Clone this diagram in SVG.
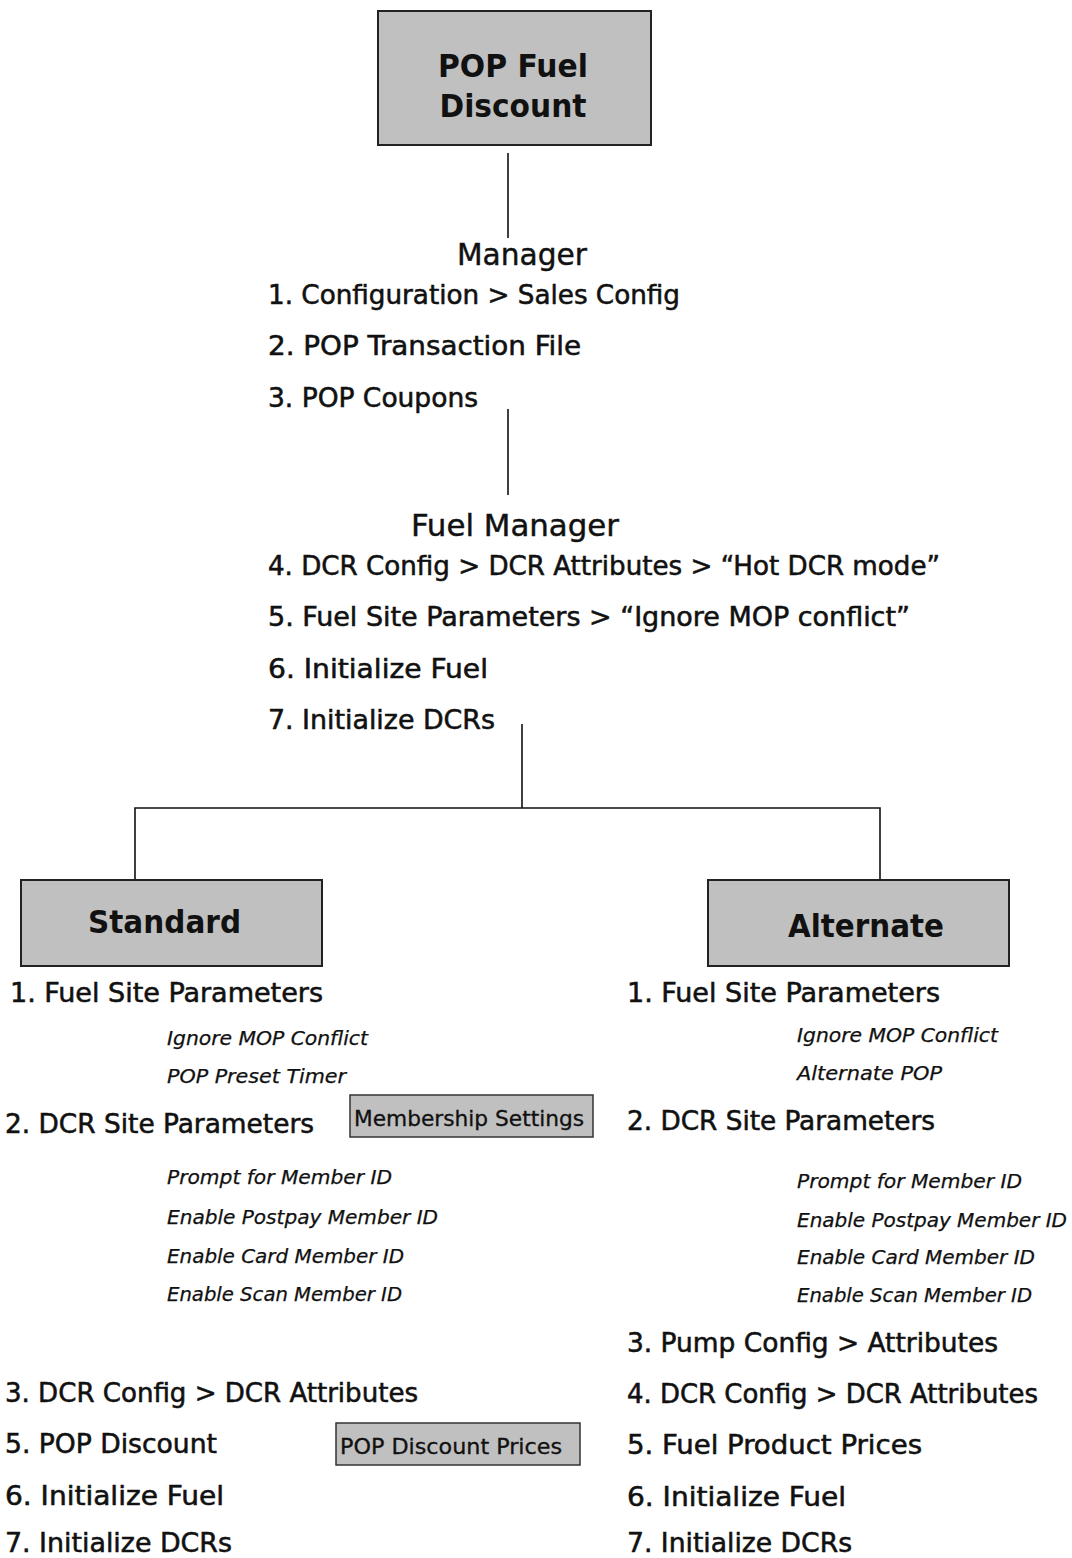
<svg xmlns="http://www.w3.org/2000/svg" width="1072" height="1558" viewBox="0 0 1072 1558">
<style>
.bg{fill:#fff}
.box{fill:#c0c0c0;stroke:#222;stroke-width:2}
.sbox{fill:#c0c0c0;stroke:#333;stroke-width:1.5}
.conn{stroke:#111;stroke-width:1.6;fill:none}
text{font-family:"DejaVu Sans Condensed","DejaVu Sans",sans-serif;fill:#111}
.title{font-family:"DejaVu Sans","Liberation Sans",sans-serif;font-weight:bold;font-size:32px;text-anchor:middle}
.head{font-size:31px;stroke:#111;stroke-width:0.4}
.item{font-size:26px;stroke:#111;stroke-width:0.5}
.sub{font-size:20px;font-style:italic;stroke:#111;stroke-width:0.25}
.lbl{font-size:22px;stroke:#111;stroke-width:0.3}
</style>
<rect class="bg" x="0" y="0" width="1072" height="1558"/>
<g id="connectors">
<line class="conn" x1="508" y1="153" x2="508" y2="238"/>
<line class="conn" x1="508" y1="409" x2="508" y2="495"/>
<line class="conn" x1="522" y1="724" x2="522" y2="808"/>
<polyline class="conn" points="135,880 135,808 880,808 880,880"/>
</g>
<g id="pop-fuel-discount">
<rect class="box" x="378" y="11" width="273" height="134"/>
<text class="title" x="513" y="77" textLength="150" lengthAdjust="spacingAndGlyphs">POP Fuel</text>
<text class="title" x="513" y="117" textLength="147" lengthAdjust="spacingAndGlyphs">Discount</text>
</g>
<g id="manager">
<text class="head" x="457" y="265" textLength="130" lengthAdjust="spacingAndGlyphs">Manager</text>
<text class="item" x="268" y="304" textLength="412" lengthAdjust="spacingAndGlyphs">1. Configuration &gt; Sales Config</text>
<text class="item" x="268" y="355" textLength="313" lengthAdjust="spacingAndGlyphs">2. POP Transaction File</text>
<text class="item" x="268" y="407" textLength="210" lengthAdjust="spacingAndGlyphs">3. POP Coupons</text>
</g>
<g id="fuel-manager">
<text class="head" x="411" y="536" textLength="208" lengthAdjust="spacingAndGlyphs">Fuel Manager</text>
<text class="item" x="268" y="575" textLength="672" lengthAdjust="spacingAndGlyphs">4. DCR Config &gt; DCR Attributes &gt; “Hot DCR mode”</text>
<text class="item" x="268" y="626" textLength="642" lengthAdjust="spacingAndGlyphs">5. Fuel Site Parameters &gt; “Ignore MOP conflict”</text>
<text class="item" x="268" y="678" textLength="220" lengthAdjust="spacingAndGlyphs">6. Initialize Fuel</text>
<text class="item" x="268" y="729" textLength="227" lengthAdjust="spacingAndGlyphs">7. Initialize DCRs</text>
</g>
<g id="standard">
<rect class="box" x="21" y="880" width="301" height="86"/>
<text class="title" x="164.5" y="933" textLength="153" lengthAdjust="spacingAndGlyphs">Standard</text>
<text class="item" x="10" y="1002" textLength="313" lengthAdjust="spacingAndGlyphs">1. Fuel Site Parameters</text>
<text class="sub" x="167" y="1045" textLength="201" lengthAdjust="spacingAndGlyphs">Ignore MOP Conflict</text>
<text class="sub" x="167" y="1083" textLength="179" lengthAdjust="spacingAndGlyphs">POP Preset Timer</text>
<text class="item" x="5" y="1133" textLength="309" lengthAdjust="spacingAndGlyphs">2. DCR Site Parameters</text>
<g id="membership-settings">
<rect class="sbox" x="350" y="1095" width="243" height="42"/>
<text class="lbl" x="354" y="1126" textLength="230" lengthAdjust="spacingAndGlyphs">Membership Settings</text>
</g>
<text class="sub" x="167" y="1184" textLength="225" lengthAdjust="spacingAndGlyphs">Prompt for Member ID</text>
<text class="sub" x="167" y="1224" textLength="271" lengthAdjust="spacingAndGlyphs">Enable Postpay Member ID</text>
<text class="sub" x="167" y="1263" textLength="237" lengthAdjust="spacingAndGlyphs">Enable Card Member ID</text>
<text class="sub" x="167" y="1301" textLength="235" lengthAdjust="spacingAndGlyphs">Enable Scan Member ID</text>
<text class="item" x="5" y="1402" textLength="413" lengthAdjust="spacingAndGlyphs">3. DCR Config &gt; DCR Attributes</text>
<text class="item" x="5" y="1453" textLength="212" lengthAdjust="spacingAndGlyphs">5. POP Discount</text>
<g id="pop-discount-prices">
<rect class="sbox" x="336" y="1423" width="244" height="42"/>
<text class="lbl" x="340" y="1454" textLength="222" lengthAdjust="spacingAndGlyphs">POP Discount Prices</text>
</g>
<text class="item" x="5" y="1505" textLength="219" lengthAdjust="spacingAndGlyphs">6. Initialize Fuel</text>
<text class="item" x="5" y="1552" textLength="227" lengthAdjust="spacingAndGlyphs">7. Initialize DCRs</text>
</g>
<g id="alternate">
<rect class="box" x="708" y="880" width="301" height="86"/>
<text class="title" x="866" y="937" textLength="156" lengthAdjust="spacingAndGlyphs">Alternate</text>
<text class="item" x="627" y="1002" textLength="313" lengthAdjust="spacingAndGlyphs">1. Fuel Site Parameters</text>
<text class="sub" x="797" y="1042" textLength="201" lengthAdjust="spacingAndGlyphs">Ignore MOP Conflict</text>
<text class="sub" x="797" y="1080" textLength="145" lengthAdjust="spacingAndGlyphs">Alternate POP</text>
<text class="item" x="627" y="1130" textLength="308" lengthAdjust="spacingAndGlyphs">2. DCR Site Parameters</text>
<text class="sub" x="797" y="1188" textLength="225" lengthAdjust="spacingAndGlyphs">Prompt for Member ID</text>
<text class="sub" x="797" y="1227" textLength="270" lengthAdjust="spacingAndGlyphs">Enable Postpay Member ID</text>
<text class="sub" x="797" y="1264" textLength="238" lengthAdjust="spacingAndGlyphs">Enable Card Member ID</text>
<text class="sub" x="797" y="1302" textLength="235" lengthAdjust="spacingAndGlyphs">Enable Scan Member ID</text>
<text class="item" x="627" y="1352" textLength="371" lengthAdjust="spacingAndGlyphs">3. Pump Config &gt; Attributes</text>
<text class="item" x="627" y="1403" textLength="411" lengthAdjust="spacingAndGlyphs">4. DCR Config &gt; DCR Attributes</text>
<text class="item" x="627" y="1454" textLength="295" lengthAdjust="spacingAndGlyphs">5. Fuel Product Prices</text>
<text class="item" x="627" y="1506" textLength="219" lengthAdjust="spacingAndGlyphs">6. Initialize Fuel</text>
<text class="item" x="627" y="1552" textLength="225" lengthAdjust="spacingAndGlyphs">7. Initialize DCRs</text>
</g>
</svg>
